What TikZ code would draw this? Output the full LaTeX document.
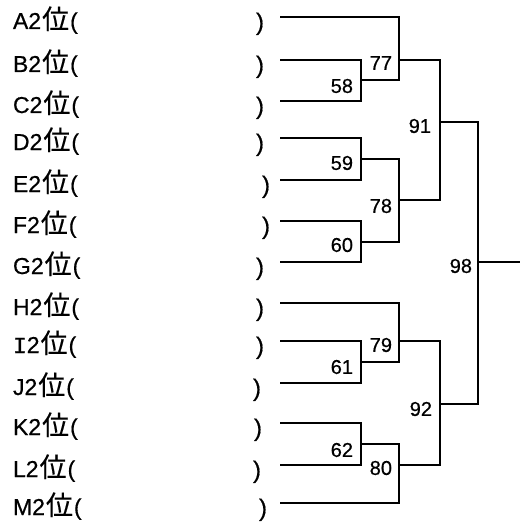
\documentclass[tikz,border=0pt]{standalone}
\usepackage{fontspec}
\setmainfont{Liberation Sans}
\newfontfamily\labfont[FakeBold=0.6]{Liberation Sans}
\newfontfamily\serifI[FakeBold=0.8]{Liberation Mono}
\newfontfamily\cjk[FakeBold=0.4]{Noto Sans CJK JP}
\newcommand{\wei}{\hspace{1pt}{\fontsize{27}{27}\selectfont\cjk 位}\hspace{1pt}}
\usetikzlibrary{positioning}
\tikzset{
    x=1pt, y=-1pt, % one unit is one pixel of the sheet, y grows downwards
    entry/.style={anchor=base west, inner sep=0pt, font=\fontsize{23}{23}\selectfont\labfont}, % team name
    paren/.style={anchor=base west, inner sep=0pt, font=\fontsize{24}{24}\selectfont\labfont}, % closing bracket
    score/.style={inner sep=0pt, font=\fontsize{20}{20}\selectfont\labfont}, % match number
    }

\begin{document}
\begin{tikzpicture}[line width=2pt]
\useasboundingbox (0,0) rectangle (522,524);

% teams
\node[entry] (A) at (12,29) {A2\wei(};
\node[entry] (B) at (12,72) {B2\wei(};
\node[entry] (C) at (12,113) {C2\wei(};
\node[entry] (D) at (12,150) {D2\wei(};
\node[entry] (E) at (12,192) {E2\wei(};
\node[entry] (F) at (12,233) {F2\wei(};
\node[entry] (G) at (12,274) {G2\wei(};
\node[entry] (H) at (12,315) {H2\wei(};
\node[entry] (I) at (12,353) {{\serifI I}2\wei(};
\node[entry] (J) at (12,395) {J2\wei(};
\node[entry] (K) at (12,435) {K2\wei(};
\node[entry] (L) at (12,477) {L2\wei(};
\node[entry] (M) at (12,515) {M2\wei(};

\node[paren] (cA) at (255,30) {)};
\node[paren] (cB) at (255,73) {)};
\node[paren] (cC) at (255,114) {)};
\node[paren] (cD) at (255,151) {)};
\node[paren] (cE) at (261,193) {)};
\node[paren] (cF) at (261,234) {)};
\node[paren] (cG) at (255,275) {)};
\node[paren] (cH) at (255,316) {)};
\node[paren] (cI) at (255,354) {)};
\node[paren] (cJ) at (252,396) {)};
\node[paren] (cK) at (253,436) {)};
\node[paren] (cL) at (252,478) {)};
\node[paren] (cM) at (258,516) {)};

% line starts
\coordinate (pA) at (280,17);
\coordinate (pB) at (280,60);
\coordinate (pC) at (280,101);
\coordinate (pD) at (280,138);
\coordinate (pE) at (280,180);
\coordinate (pF) at (280,221);
\coordinate (pG) at (280,262);
\coordinate (pH) at (280,303);
\coordinate (pI) at (280,341);
\coordinate (pJ) at (280,383);
\coordinate (pK) at (280,423);
\coordinate (pL) at (280,465);
\coordinate (pM) at (280,503);

% matches
\coordinate (m58) at (361,80);
\coordinate (m59) at (361,159);
\coordinate (m60) at (361,242);
\coordinate (m61) at (361,362);
\coordinate (m62) at (361,444);
\coordinate (m77) at (399,60);
\coordinate (m78) at (399,200);
\coordinate (m79) at (399,341);
\coordinate (m80) at (399,465);
\coordinate (m91) at (440,122);
\coordinate (m92) at (440,404);
\coordinate (m98) at (478,262);
\coordinate (win) at (520,262);

\draw (pB) -| (m58) (pC) -| (m58)
      (pD) -| (m59) (pE) -| (m59)
      (pF) -| (m60) (pG) -| (m60)
      (pI) -| (m61) (pJ) -| (m61)
      (pK) -| (m62) (pL) -| (m62);
\draw (pA) -| (m77) (m58) -| (m77)
      (m59) -| (m78) (m60) -| (m78)
      (pH) -| (m79) (m61) -| (m79)
      (m62) -| (m80) (pM) -| (m80);
\draw (m77) -| (m91) (m78) -| (m91)
      (m79) -| (m92) (m80) -| (m92);
\draw (m91) -| (m98) (m92) -| (m98) (m98) -- (win);

\node[score, left=7pt of m58, yshift=-6pt] {58};
\node[score, left=7pt of m59, yshift=-4pt] {59};
\node[score, left=7pt of m60, yshift=-3pt] {60};
\node[score, left=7pt of m61, yshift=-5pt] {61};
\node[score, left=7pt of m62, yshift=-6pt] {62};
\node[score, left=6pt of m77, yshift=-3pt] {77};
\node[score, left=6pt of m78, yshift=-6pt] {78};
\node[score, left=6pt of m79, yshift=-4pt] {79};
\node[score, left=6pt of m80, yshift=-3pt] {80};
\node[score, left=8pt of m91, yshift=-4pt] {91};
\node[score, left=7pt of m92, yshift=-5pt] {92};
\node[score, left=5pt of m98, yshift=-4pt] {98};
\end{tikzpicture}
\end{document}
